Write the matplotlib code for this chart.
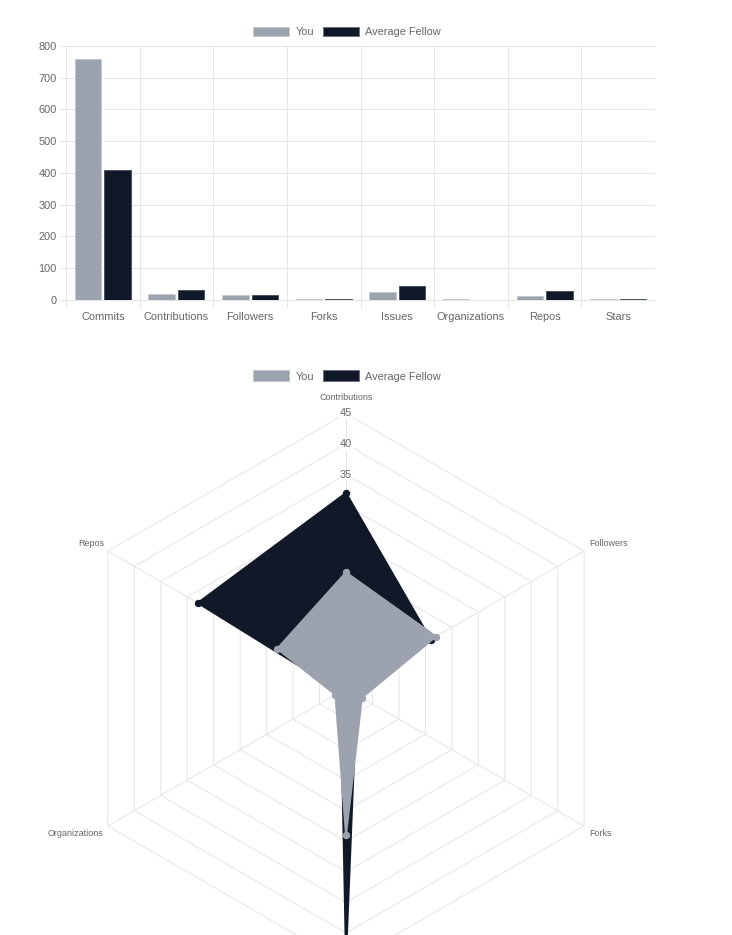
import numpy as np
import matplotlib
matplotlib.use("Agg")
import matplotlib.pyplot as plt
from matplotlib.patches import Patch

plt.rcParams['font.family'] = ['Liberation Sans', 'DejaVu Sans']

# data
bar_labels = ["Commits", "Contributions", "Followers", "Forks", "Issues",
              "Organizations", "Repos", "Stars"]
bar_you = [760, 19, 17, 3, 24, 2, 13, 3]
bar_avg = [408, 32, 16, 2, 44, 1, 28, 3]

radar_labels = ["Contributions", "Followers", "Forks", "Issues",
                "Organizations", "Repos"]
radar_you = [19, 17, 3, 24, 2, 13]
radar_avg = [32, 16, 2, 44, 1, 28]
radar_ticks = [5, 10, 15, 20, 25, 30, 35, 40, 45]

YOU = "#9ca3af"
AVG = "#111827"
GRID = "#e5e5e5"
TXT = "#666666"

W, H = 732, 935
fig = plt.figure(figsize=(W / 100, H / 100), dpi=100)

def px(v):
    return v * 0.72  # pixels -> points at dpi 100

# ---------- bar chart ----------
ax = fig.add_axes([66 / W, 1 - 300 / H, (655 - 66) / W, (300 - 46) / H])
x = np.arange(len(bar_labels))
ax.bar(x - 0.2, bar_you, width=0.36, color=YOU, edgecolor="#c4c8cf",
       linewidth=px(1), zorder=3)
ax.bar(x + 0.2, bar_avg, width=0.36, color=AVG, edgecolor="#4b5563",
       linewidth=px(1), zorder=3)
ax.set_xlim(-0.5, len(bar_labels) - 0.5)
ax.set_ylim(0, 800)
ax.set_yticks(range(0, 801, 100))
ax.set_xticks(x)
ax.set_xticklabels(bar_labels)
ax.set_xticks(np.arange(-0.5, len(bar_labels) - 1), minor=True)
ax.tick_params(axis="x", which="major", length=0, pad=px(12),
               labelsize=px(11), labelcolor=TXT)
ax.tick_params(axis="x", which="minor", length=px(8), width=px(1),
               color=GRID)
ax.tick_params(axis="y", length=px(6), width=px(1), color=GRID, pad=px(3),
               labelsize=px(11), labelcolor=TXT)
ax.grid(True, axis="y", color=GRID, linewidth=px(1), zorder=0)
ax.grid(True, axis="x", which="minor", color=GRID, linewidth=px(1), zorder=0)
ax.set_axisbelow(True)
for s in ["top", "right"]:
    ax.spines[s].set_visible(False)
for s in ["left", "bottom"]:
    ax.spines[s].set_color(GRID)
    ax.spines[s].set_linewidth(px(1))

def legend(y, hh):
    handles = [Patch(facecolor=YOU, edgecolor="#c4c8cf", linewidth=px(1), label="You"),
               Patch(facecolor=AVG, edgecolor="#6b7280", linewidth=px(1), label="Average Fellow")]
    leg = fig.legend(handles=handles, loc="center", ncol=2, frameon=False,
                     bbox_to_anchor=(347 / W, 1 - y / H),
                     fontsize=px(11), handlelength=3.3, handleheight=hh,
                     handletextpad=0.55, columnspacing=0.8)
    for t in leg.get_texts():
        t.set_color(TXT)

legend(32, 0.9)

# ---------- radar chart ----------
cx, cy, R = 346, 688.5, 275
rax = fig.add_axes([(cx - R) / W, (H - cy - R) / H, 2 * R / W, 2 * R / H],
                   projection="polar")
rax.set_theta_offset(np.pi / 2)
rax.set_theta_direction(-1)
rax.set_ylim(0, 45)
rax.grid(False)
rax.set_xticks([])
rax.set_yticks([])
rax.spines["polar"].set_visible(False)
rax.patch.set_alpha(0)

n = len(radar_labels)
ang = np.arange(n) * 2 * np.pi / n
ang_c = np.append(ang, ang[0])

for t in radar_ticks:
    rax.plot(ang_c, [t] * (n + 1), color=GRID, linewidth=px(1), zorder=0)
for a in ang:
    rax.plot([a, a], [0, 45], color=GRID, linewidth=px(1), zorder=0)
for t in radar_ticks:
    rax.text(0, t, str(t), ha="center", va="center", fontsize=px(11),
             color=TXT, zorder=1,
             bbox=dict(facecolor="white", edgecolor="none", pad=0.5))

def series(vals, col, z):
    v = np.append(vals, vals[0])
    rax.fill(ang_c, v, color=col, zorder=z, linewidth=0)
    rax.plot(ang_c, v, color=col, linewidth=px(2), zorder=z + 0.1,
             solid_joinstyle="round")
    rax.plot(ang, vals, "o", color=col, markersize=px(6), zorder=z + 0.2)

series(radar_avg, AVG, 2)
series(radar_you, YOU, 3)

# the bottom label (Issues) falls below the canvas, as in the reference
label_pos = {
    "Contributions": ((0, px(16.5)), "center", "center"),
    "Followers": ((px(5), px(8)), "left", "center"),
    "Forks": ((px(5), px(-8)), "left", "center"),
    "Organizations": ((px(-4), px(-8)), "right", "center"),
    "Repos": ((px(-4), px(8)), "right", "center"),
}
for a, lab in zip(ang, radar_labels):
    if lab not in label_pos:
        continue
    off, ha, va = label_pos[lab]
    rax.annotate(lab, xy=(a, 45), xytext=off, textcoords="offset points",
                 ha=ha, va=va, fontsize=px(9), color=TXT,
                 annotation_clip=False)

legend(376, 1.15)

fig.savefig("out.png", dpi=100)
